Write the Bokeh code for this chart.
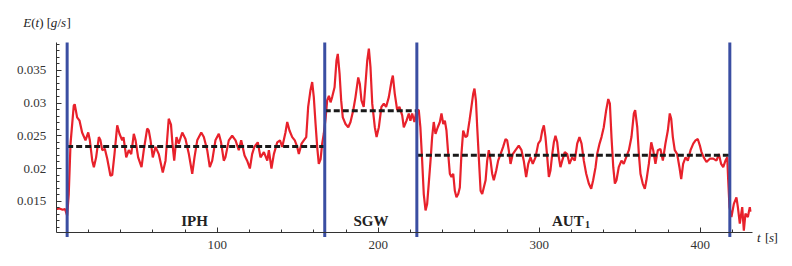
from bokeh.plotting import figure
from bokeh.models import Range1d, FixedTicker, NumeralTickFormatter
from bokeh.core.properties import value
from bokeh.embed import file_html
from bokeh.resources import INLINE

# ---------------- data ----------------
t = [0, 2, 4, 5.5, 6.8, 7.8, 8.9, 10.9, 11.5, 13.0, 14.5, 16.1, 18.2, 19.9, 20.9, 22.4, 23.4, 24.8,
     26.5, 27.5, 28.6, 30.2, 31.7, 33.7, 34.8, 36.2, 37.9, 39.3, 41.0, 41.8, 43.5, 45.1, 46.6, 48.2,
     49.3, 50.9, 53.0, 54.4, 56.5, 57.5, 58.6, 60.0, 61.7, 63.7, 66.2, 67.9, 69.9, 71.3, 72.2, 73.3,
     74.7, 76.1, 78.3, 80.3, 82.4, 84.5, 85.9, 87.6, 90.1, 91.7, 93.8, 95.4, 96.9, 98.9, 101.0, 102.4,
     104.1, 105.1, 107.2, 109.3, 111.4, 113.4, 114.9, 117.0, 118.6, 120.3, 121.7, 123.1, 125.2, 126.9,
     129.0, 131.1, 132.1, 133.7, 135.2, 137.3, 139.0, 140.4, 142.4,
     143.5, 144.9, 146.6, 148.2, 149.7, 150.7, 152.4, 153.8, 155.3, 156.5, 157.9, 159.0, 160.0, 161.1,
     162.1, 163.1, 164.2, 165.2, 166.2, 167.3, 168.3, 169.4, 170.4, 171.4, 172.9, 174.1, 174.9, 176.0,
     177.0, 178.0, 179.7, 181.4, 182.8, 184.5, 185.9, 187.6, 188.6, 189.6, 191.0, 192.1, 193.2, 194.2,
     195.2, 196.3, 197.9, 199.0, 200.4, 202.0, 203.5, 204.9, 206.6, 208.3, 209.1, 210.3, 211.8, 213.2,
     214.9, 215.9, 217.6, 219.0, 220.0, 221.1, 222.5, 223.8, 225.2,
     226.2, 227.3, 228.3, 229.4, 230.4, 231.4, 232.5, 233.5, 234.5, 235.6, 237.0, 238.3, 239.3, 240.4,
     241.4, 242.4, 243.5, 244.5, 245.5, 246.6, 247.6, 248.6, 249.7, 250.7, 251.7, 252.8, 254.2, 255.3,
     256.7, 257.9, 259.0, 259.8, 260.7, 261.5, 262.6, 263.6, 264.6, 265.6, 266.7, 267.7, 268.7, 269.8,
     270.8, 271.8, 273.3, 274.5, 276.0, 277.6, 279.1, 280.1, 281.1, 282.2, 283.6, 285.3,
     287.3, 289.0, 290.4, 291.9, 293.2, 294.6, 296.0, 297.7, 299.4, 300.8, 301.9, 302.9, 303.9, 305.0,
     306.0, 307.0, 308.1, 309.1, 310.1, 311.2, 312.2, 313.2, 314.3, 315.9, 317.4, 318.8, 320.5, 322.1,
     323.6, 325.0, 326.3, 327.7, 329.2, 330.8, 332.3, 333.5, 335.0, 336.0, 337.5, 338.7, 340.1, 341.6,
     342.9, 343.9, 344.9, 346.0, 347.0, 348.0, 349.4, 351.1, 352.5, 354.0, 355.7, 357.3, 358.8,
     359.6, 360.9, 361.9, 362.9, 364.3, 365.6, 366.6, 368.1, 369.6, 370.8, 372.2, 373.7, 375.3, 376.8,
     378.4, 379.9, 381.1, 382.0, 383.0, 384.2, 385.7, 387.1, 388.2, 389.4, 390.9, 392.3, 394.0, 395.7,
     397.1, 398.5, 399.8, 400.8, 402.2, 403.9, 406.0, 408.1, 410.1, 411.6, 413.0, 414.3, 415.7, 416.8,
     417.4, 418.2, 419.4, 420.9, 422.5, 423.4, 424.6, 426.1, 427.1, 428.1, 429.6, 430.8, 431.2]

E = [0.0138, 0.0139, 0.0137, 0.0138, 0.0128, 0.0161, 0.0238, 0.0296, 0.0298, 0.0278, 0.0273, 0.0255,
     0.0243, 0.0255, 0.0243, 0.0212, 0.0202, 0.0217, 0.0248, 0.0243, 0.0228, 0.0230, 0.0215, 0.0189,
     0.0190, 0.0222, 0.0266, 0.0253, 0.0243, 0.0248, 0.0217, 0.0228, 0.0222, 0.0253, 0.0243, 0.0217,
     0.0202, 0.0228, 0.0261, 0.0258, 0.0243, 0.0217, 0.0233, 0.0222, 0.0194, 0.0212, 0.0276, 0.0267,
     0.0238, 0.0212,
     0.0248, 0.0238, 0.0255, 0.0245, 0.0222, 0.0192, 0.0217, 0.0243, 0.0255, 0.0248, 0.0228, 0.0202,
     0.0212, 0.0243, 0.0253, 0.0240, 0.0212, 0.0217, 0.0243, 0.0250, 0.0243, 0.0228, 0.0243, 0.0220,
     0.0212, 0.0200, 0.0222, 0.0233, 0.0240, 0.0217, 0.0225, 0.0212, 0.0228, 0.0200, 0.0222, 0.0240,
     0.0243, 0.0233, 0.0255,
     0.0271, 0.0258, 0.0248, 0.0243, 0.0233, 0.0222, 0.0238, 0.0243, 0.0248, 0.0294, 0.0319, 0.0332,
     0.0309, 0.0268, 0.0233, 0.0207, 0.0214, 0.0238, 0.0253, 0.0276, 0.0304, 0.0311, 0.0301, 0.0309,
     0.0324, 0.0365, 0.0375, 0.0345, 0.0304, 0.0278, 0.0268, 0.0263, 0.0271, 0.0289, 0.0309, 0.0339,
     0.0329, 0.0304, 0.0294, 0.0329, 0.0365, 0.0383, 0.0355, 0.0299, 0.0263, 0.0248, 0.0263, 0.0294,
     0.0299, 0.0294, 0.0309, 0.0334, 0.0342, 0.0314, 0.0289, 0.0294, 0.0281, 0.0263, 0.0273, 0.0284,
     0.0273, 0.0284, 0.0271, 0.0289, 0.0289,
     0.0263, 0.0212, 0.0161, 0.0136, 0.0146, 0.0177, 0.0212, 0.0248, 0.0271, 0.0253, 0.0263, 0.0271,
     0.0284, 0.0268, 0.0273, 0.0258, 0.0222, 0.0192, 0.0187, 0.0192, 0.0166, 0.0156, 0.0161, 0.0171,
     0.0222, 0.0258, 0.0248, 0.0250, 0.0273, 0.0294, 0.0314, 0.0322, 0.0304, 0.0263, 0.0212, 0.0166,
     0.0161, 0.0171, 0.0182, 0.0212, 0.0228, 0.0212, 0.0192, 0.0182, 0.0197, 0.0212, 0.0222, 0.0233,
     0.0245, 0.0243, 0.0228, 0.0207, 0.0222, 0.0228,
     0.0235, 0.0228, 0.0212, 0.0187, 0.0207, 0.0217, 0.0207, 0.0217, 0.0238, 0.0243, 0.0258, 0.0266,
     0.0248, 0.0217, 0.0187, 0.0197, 0.0222, 0.0240, 0.0250, 0.0240, 0.0217, 0.0202, 0.0212, 0.0225,
     0.0222, 0.0207, 0.0217, 0.0212, 0.0238, 0.0248, 0.0238, 0.0212, 0.0192, 0.0177, 0.0169, 0.0182,
     0.0202, 0.0222, 0.0238, 0.0248, 0.0263, 0.0289, 0.0306, 0.0299, 0.0248, 0.0202, 0.0177, 0.0182,
     0.0202, 0.0212, 0.0207, 0.0217, 0.0228, 0.0248, 0.0284,
     0.0289, 0.0263, 0.0222, 0.0192, 0.0177, 0.0169, 0.0182, 0.0207, 0.0240, 0.0228, 0.0207, 0.0228,
     0.0230, 0.0212, 0.0238, 0.0258, 0.0284, 0.0276, 0.0248, 0.0228, 0.0222, 0.0202, 0.0184, 0.0207,
     0.0217, 0.0212, 0.0228, 0.0238, 0.0243, 0.0245, 0.0235, 0.0225, 0.0217, 0.0210, 0.0215, 0.0215,
     0.0212, 0.0222, 0.0207, 0.0202, 0.0212, 0.0217, 0.0182, 0.0141, 0.0126, 0.0146, 0.0156, 0.0141,
     0.0116, 0.0141, 0.0105, 0.0131, 0.0126, 0.0141, 0.0134]

boundaries = [6.8, 166.8, 224.0, 418.4]          # phase change times [s]
phase_names = ["IPH", "SGW", "AUT"]
phase_means = [0.02336, 0.02881, 0.02203]        # mean E(t) per phase [g/s]

x_major = [100, 200, 300, 400]
x_minor = [20, 40, 60, 80, 120, 140, 160, 180, 220, 240, 260, 280, 320, 340, 360, 380, 420]
y_major = [0.015, 0.02, 0.025, 0.03, 0.035]
y_minor = [0.011, 0.012, 0.013, 0.014, 0.016, 0.017, 0.018, 0.019, 0.021, 0.022, 0.023, 0.024,
           0.026, 0.027, 0.028, 0.029, 0.031, 0.032, 0.033, 0.034, 0.036, 0.037, 0.038, 0.039]

# axes extents (Mathematica-style axes crossing at the origin of the data box)
X_AXIS_START, X_AXIS_END = 0.0, 432.3
Y_AXIS_START, Y_AXIS_END = 0.01023, 0.03924

# ---------------- layout constants ----------------
W, H = 792, 266
ORIGIN_PX, ORIGIN_PY = 55.7, 232.0      # where the axes cross, in canvas pixels
XS, YS = 1.61, 6550.0                   # pixels per data unit

def dx(px):
    return (px - ORIGIN_PX) / XS

def dy(py):
    return Y_AXIS_START + (ORIGIN_PY - py) / YS

SERIF = "Liberation Serif"
INK = "#333333"

p = figure(width=W, height=H, output_backend="svg", toolbar_location=None,
           x_range=Range1d(dx(0), dx(W)), y_range=Range1d(dy(H), dy(0)),
           min_border=0, min_border_left=0, min_border_right=0,
           min_border_top=0, min_border_bottom=0)
p.grid.visible = False
p.outline_line_color = None
p.background_fill_color = "white"
p.border_fill_color = "white"

# signal
p.line(t, E, line_color="#e8212b", line_width=2.2)

# phase means (dashed)
p.segment(x0=boundaries[:-1], x1=boundaries[1:], y0=phase_means, y1=phase_means,
          line_color="#1a1a1a", line_width=3, line_dash="6 3")

# phase boundaries (slightly past the axis, as in the original)
p.segment(x0=boundaries, x1=boundaries, y0=[dy(236.5)] * len(boundaries),
          y1=[Y_AXIS_END] * len(boundaries), line_color="#3a4ea2", line_width=3)

# axes, fixed inside the canvas
xa = p.xaxis[0]
xa.fixed_location = Y_AXIS_START
xa.bounds = (X_AXIS_START, X_AXIS_END)
xa.ticker = FixedTicker(ticks=x_major, minor_ticks=x_minor)
ya = p.yaxis[0]
ya.fixed_location = X_AXIS_START
ya.bounds = (Y_AXIS_START, Y_AXIS_END)
ya.ticker = FixedTicker(ticks=y_major, minor_ticks=y_minor)
ya.formatter = NumeralTickFormatter(format="0.[000]")
for ax in (xa, ya):
    ax.axis_line_color = INK
    ax.axis_line_width = 1
    ax.major_tick_line_color = INK
    ax.minor_tick_line_color = INK
    ax.major_tick_in = 5
    ax.major_tick_out = 0
    ax.minor_tick_in = 3
    ax.minor_tick_out = 0
    ax.major_label_text_font = SERIF
    ax.major_label_text_font_size = "13px"
    ax.major_label_text_color = INK
xa.major_label_standoff = 8
ya.major_label_standoff = 10

def put(text, px, py, size="13px", style="normal", align="left"):
    p.text(x=[dx(px)], y=[dy(py)], text=[text], text_font=value(SERIF), text_font_size=size,
           text_font_style=style, text_color="#222222", text_align=align,
           text_baseline="alphabetic")

# y axis title  E(t) [g/s]
for txt, px, st in [("E", 22.7, "italic"), ("(", 30.8, "normal"), ("t", 35.0, "italic"),
                    (")", 38.8, "normal"), ("[", 46.3, "normal"), ("g", 50.3, "italic"),
                    ("/", 57.0, "normal"), ("s", 60.6, "italic"), ("]", 65.9, "normal")]:
    put(txt, px, 21.7, style=st)

# x axis title  t [s]
for txt, px, st in [("t", 756.5, "italic"), ("[", 764.5, "normal"), ("s", 768.4, "italic"),
                    ("]", 773.0, "normal")]:
    put(txt, px, 237.3, style=st)

# phase labels
put(phase_names[0], 194.0, 220.0, size="15px", style="bold", align="center")
put(phase_names[1], 370.5, 220.0, size="15px", style="bold", align="center")
put(phase_names[2], 551.5, 220.0, size="15px", style="bold", align="left")
put("1", 584.5, 223.5, size="10px", style="bold", align="left")

open("out.html", "w").write(file_html(p, INLINE))
